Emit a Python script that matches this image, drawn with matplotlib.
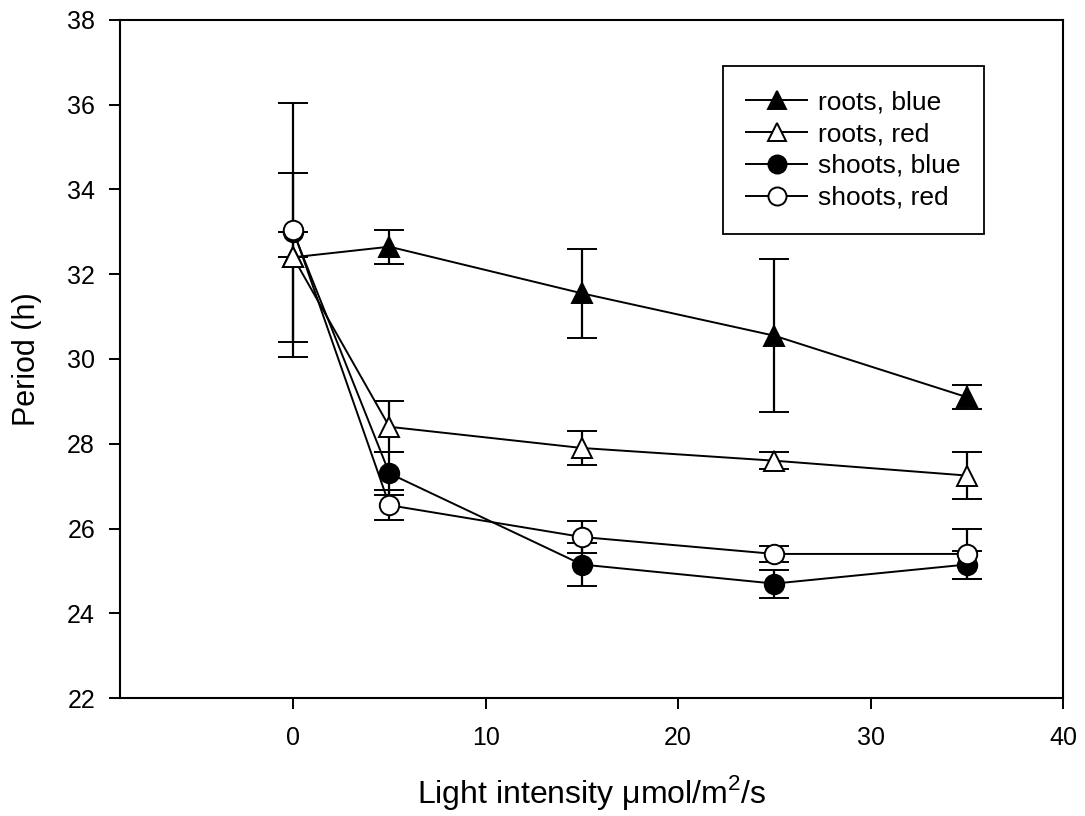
import matplotlib
matplotlib.use('Agg')
import matplotlib.pyplot as plt
from matplotlib.lines import Line2D

plt.rcParams['font.family'] = ['Liberation Sans', 'DejaVu Sans']
plt.rcParams['mathtext.fontset'] = 'custom'
plt.rcParams['mathtext.rm'] = 'Liberation Sans'

light = [0, 5, 15, 25, 35]

roots_blue = [32.4, 32.65, 31.55, 30.55, 29.1]
roots_blue_err = [2.0, 0.4, 1.05, 1.8, 0.28]
roots_red = [32.4, 28.4, 27.9, 27.6, 27.25]
roots_red_err = [0.0, 0.6, 0.4, 0.2, 0.55]
shoots_blue = [33.0, 27.3, 25.15, 24.7, 25.15]
shoots_blue_err = [0.0, 0.5, 0.5, 0.33, 0.33]
shoots_red = [33.05, 26.55, 25.8, 25.4, 25.4]
shoots_red_err = [3.0, 0.35, 0.38, 0.18, 0.6]

fig = plt.figure(figsize=(10.85, 8.16), dpi=100)
ax = fig.add_axes([0.1106, 0.1446, 0.8691, 0.8309])

series = [
    (roots_blue, roots_blue_err, '^', 'black', 'roots, blue'),
    (roots_red, roots_red_err, '^', 'white', 'roots, red'),
    (shoots_blue, shoots_blue_err, 'o', 'black', 'shoots, blue'),
    (shoots_red, shoots_red_err, 'o', 'white', 'shoots, red'),
]
handles = []
for vals, err, mk, fc, lab in series:
    ax.errorbar(light, vals, yerr=err, color='black', lw=1.4, marker=mk,
                markersize=14, markerfacecolor=fc, markeredgecolor='black',
                markeredgewidth=1.4, capsize=11, capthick=1.6, elinewidth=1.6)
    handles.append(Line2D([], [], color='black', lw=1.4, marker=mk,
                          markersize=13, markerfacecolor=fc,
                          markeredgecolor='black', markeredgewidth=1.4,
                          label=lab))

ax.set_xlim(-9, 40)
ax.set_ylim(22, 38)
ax.set_xticks([0, 10, 20, 30, 40])
ax.set_yticks(range(22, 39, 2))
ax.tick_params(direction='out', length=8, width=1.4, labelsize=18)
ax.tick_params(axis='x', pad=12)
ax.tick_params(axis='y', pad=10)
for s in ax.spines.values():
    s.set_linewidth(1.5)

ax.set_xlabel('Light intensity μmol/m$^2$/s', fontsize=23, labelpad=17)
ax.set_ylabel('Period (h)', fontsize=22, labelpad=18)

leg = ax.legend(handles=handles, loc='upper left',
                bbox_to_anchor=(0.625, 0.951), fontsize=19,
                frameon=True, fancybox=False, edgecolor='black',
                handlelength=2.3, borderpad=0.9, labelspacing=0.3,
                handletextpad=0.4, framealpha=1)
leg.get_frame().set_linewidth(1.3)

fig.savefig('out.png', dpi=100)
